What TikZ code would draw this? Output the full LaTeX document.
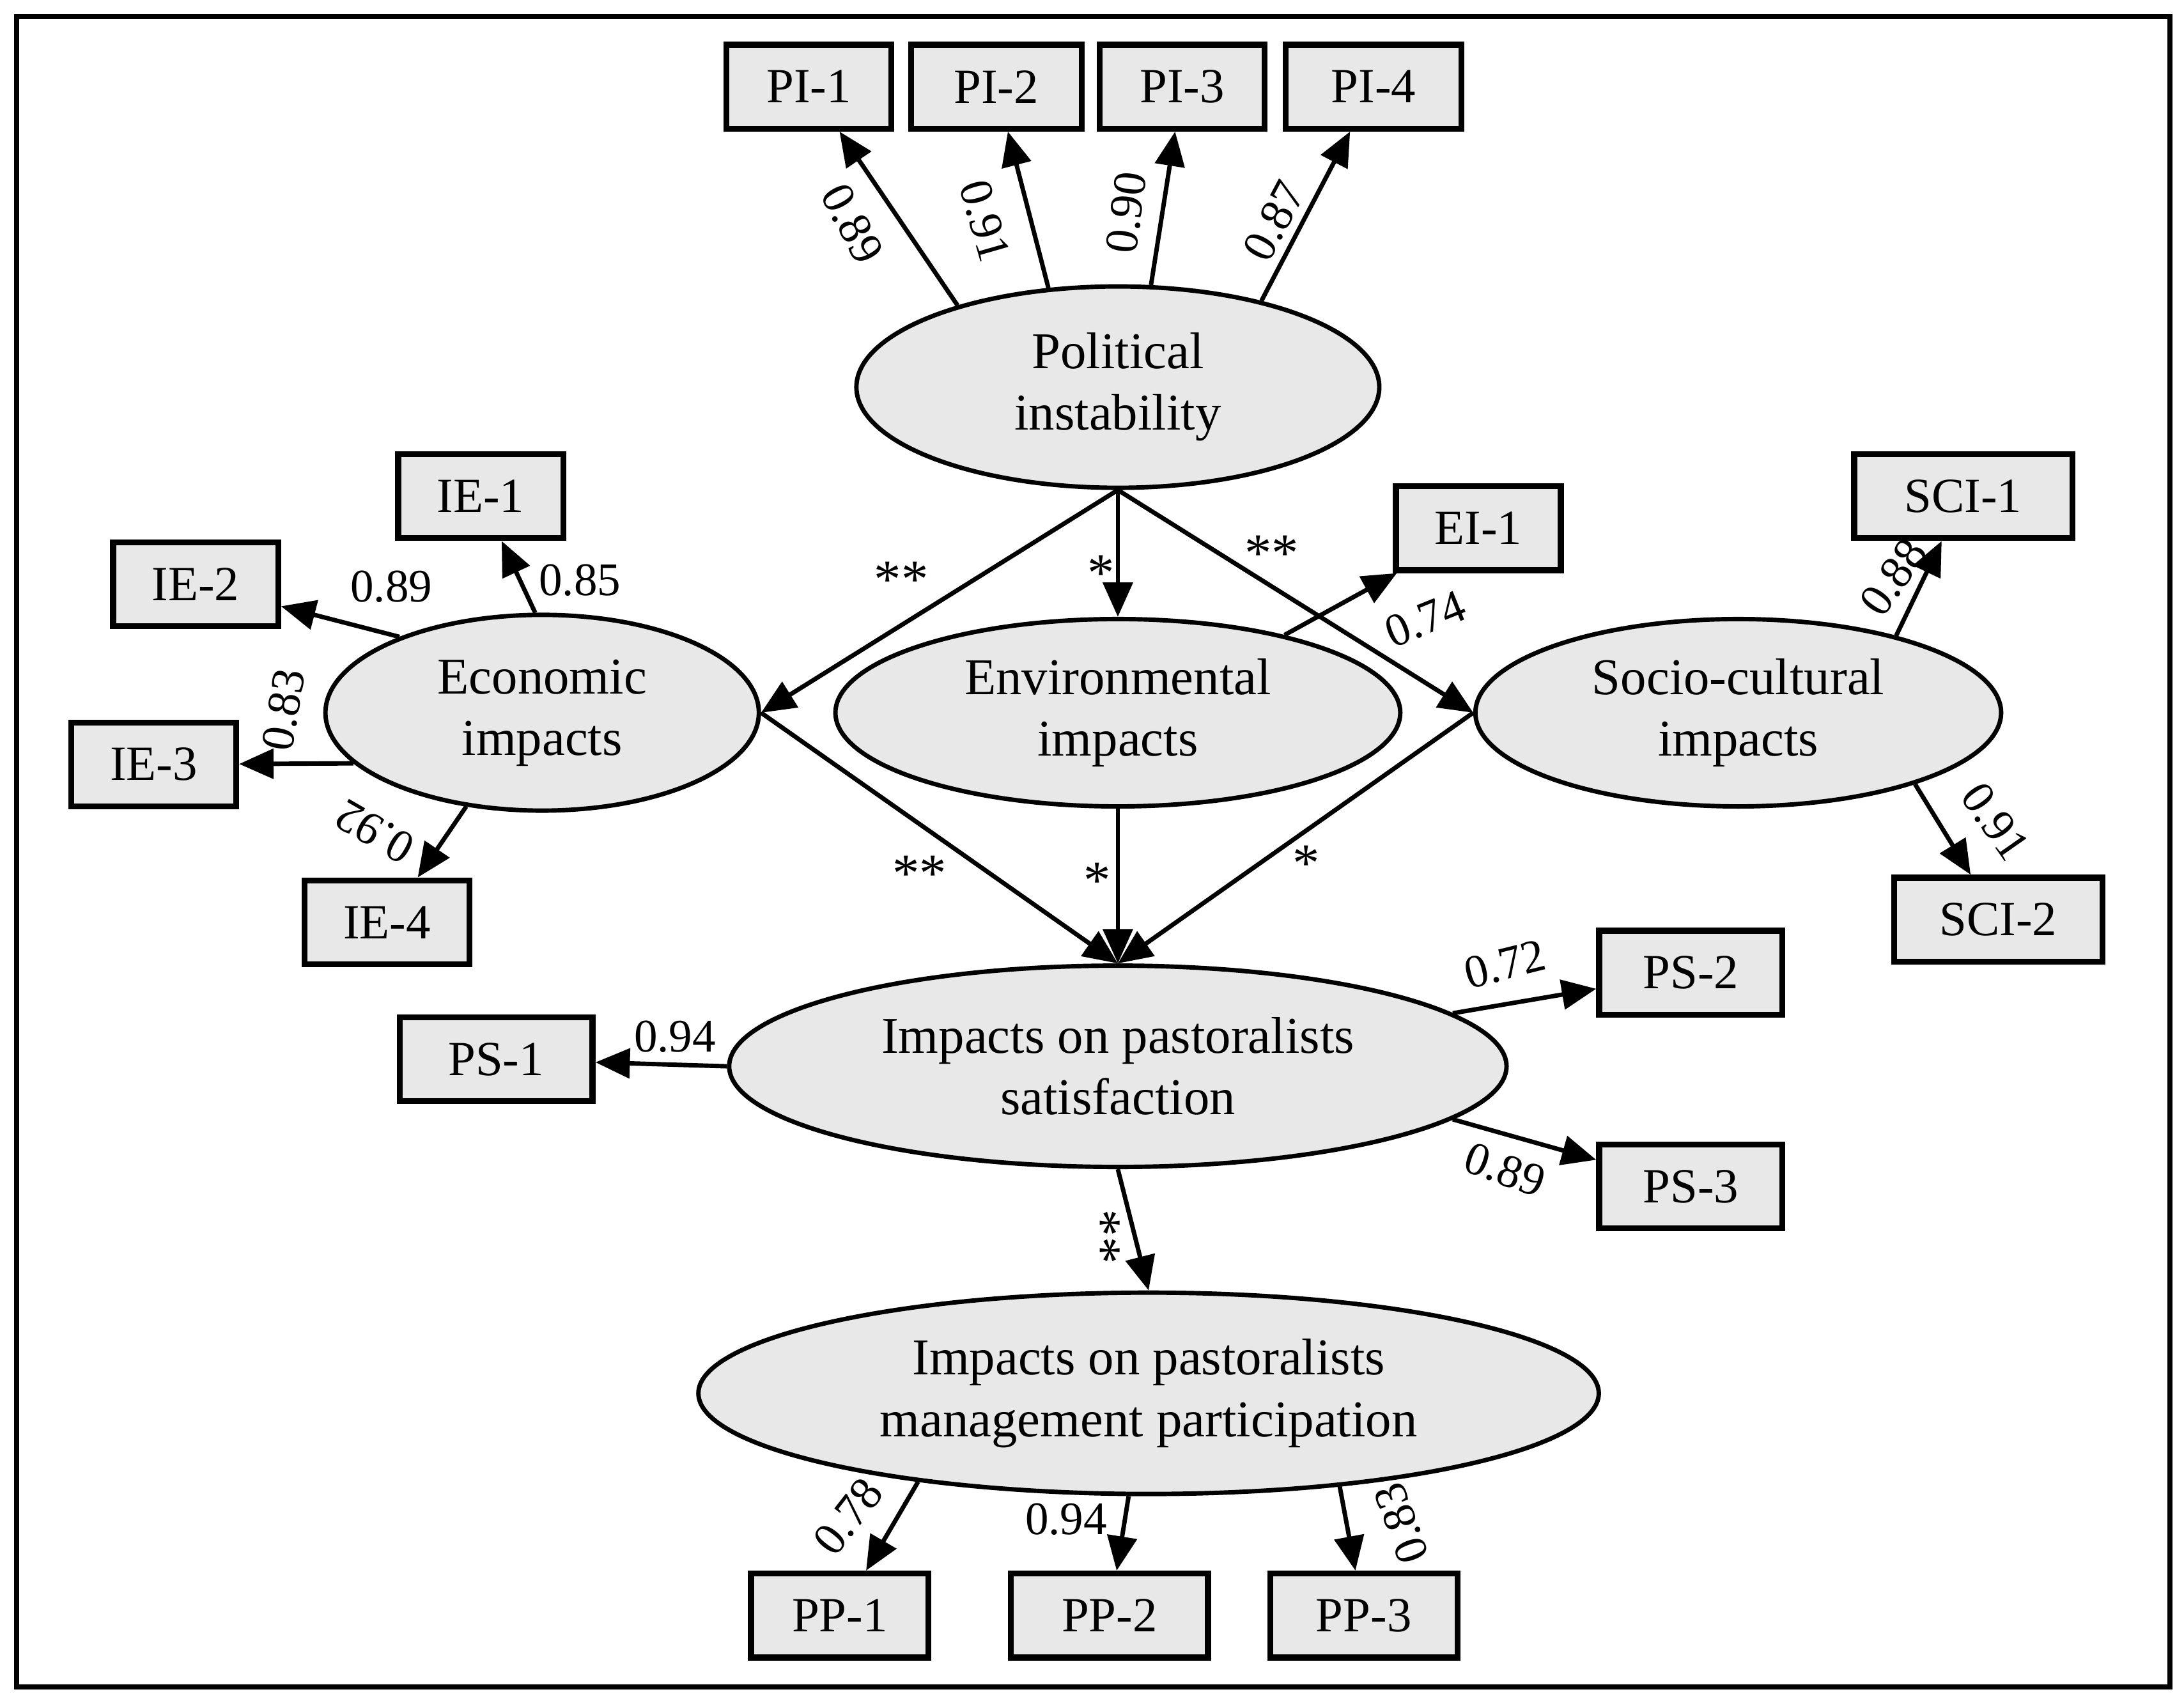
\documentclass[tikz,border=0pt]{standalone}
\usepackage{fontspec}
\setmainfont{Liberation Serif}
\usetikzlibrary{shapes.geometric,arrows.meta}
\definecolor{fillg}{RGB}{232,232,232}
\begin{document}
\begin{tikzpicture}[x=0.01cm,y=-0.01cm,
 box/.style={draw,line width=1.2pt,fill=fillg,minimum width=#1,minimum height=0.6cm,font=\fontsize{10}{12}\selectfont,inner sep=0pt},
 box/.default=1.18cm,
 ell/.style={ellipse,draw,line width=0.9pt,fill=fillg,inner sep=0pt,align=center,font=\fontsize{10.5}{12.5}\selectfont},
 ar/.style={-{Triangle[length=7pt,width=6pt]},line width=0.9pt},
 lb/.style={font=\fontsize{9.5}{11}\selectfont,inner sep=0pt},
 st/.style={font=\fontsize{11}{11}\selectfont}]
\useasboundingbox (0,0) rectangle (1563,1217);
\draw[line width=1pt] (12,12) rectangle (1553,1207);
% boxes
\node[box] (pi1) at (579,62) {PI-1};
\node[box=1.22cm] (pi2) at (713,62) {PI-2};
\node[box] (pi3) at (846,62) {PI-3};
\node[box=1.26cm] (pi4) at (983,62) {PI-4};
\node[box] (ie1) at (344,355) {IE-1};
\node[box] (ie2) at (140,418) {IE-2};
\node[box] (ie3) at (110,547) {IE-3};
\node[box] (ie4) at (277,660) {IE-4};
\node[box] (ei1) at (1058,378) {EI-1};
\node[box=1.56cm] (sci1) at (1405,355) {SCI-1};
\node[box=1.49cm] (sci2) at (1430,658) {SCI-2};
\node[box=1.38cm] (ps1) at (355,758) {PS-1};
\node[box=1.31cm] (ps2) at (1210,696) {PS-2};
\node[box=1.31cm] (ps3) at (1210,849) {PS-3};
\node[box=1.27cm] (pp1) at (601,1156) {PP-1};
\node[box=1.41cm] (pp2) at (794,1156) {PP-2};
\node[box=1.34cm] (pp3) at (976,1156) {PP-3};
% ellipses
\node[ell,minimum width=3.74cm,minimum height=1.44cm] (pi) at (800,277) {Political\\instability};
\node[ell,minimum width=3.1cm,minimum height=1.4cm] (ec) at (388,510) {Economic\\impacts};
\node[ell,minimum width=4.04cm,minimum height=1.34cm] (en) at (800,510) {Environmental\\impacts};
\node[ell,minimum width=3.76cm,minimum height=1.34cm] (sc) at (1244,510) {Socio-cultural\\impacts};
\node[ell,minimum width=5.56cm,minimum height=1.44cm] (sa) at (800,763) {Impacts on pastoralists\\satisfaction};
\node[ell,minimum width=6.44cm,minimum height=1.44cm] (pa) at (822,997) {Impacts on pastoralists\\management participation};
% loadings
\draw[ar] (pi.153) -- (pi1);
\draw[ar] (pi.125) -- (pi2);
\draw[ar] (pi.72) -- (pi3);
\draw[ar] (pi.31) -- (pi4);
\draw[ar] (ec.94) -- (ie1);
\draw[ar] (ec.152) -- (ie2);
\draw[ar] (ec.195) -- (ie3);
\draw[ar] (ec.231) -- (ie4);
\draw[ar] (en.25) -- (ei1);
\draw[ar] (sc.26) -- (sci1);
\draw[ar] (sc.-22) -- (sci2);
\draw[ar] (sa.west) -- (ps1);
\draw[ar] (sa.9) -- (ps2);
\draw[ar] (sa.-9) -- (ps3);
\draw[ar] (pa.201) -- (pp1);
\draw[ar] (pa.259) -- (pp2);
\draw[ar] (pa.334) -- (pp3);
\node[lb,rotate=-62] (l1) at (610,160) {0.89};
\node[lb,rotate=-74] (l2) at (705,158) {0.91};
\node[lb,rotate=83] (l3) at (806,152) {0.90};
\node[lb,rotate=62] (l4) at (912,158) {0.87};
\node[lb] (l5) at (415,415) {0.85};
\node[lb] (l6) at (280,420) {0.89};
\node[lb,rotate=80] (l7) at (203,508) {0.83};
\node[lb,rotate=150] (l8) at (268,595) {0.92};
\node[lb,rotate=22] (l9) at (1020,443) {0.74};
\node[lb,rotate=55] (l10) at (1355,413) {0.88};
\node[lb,rotate=-55] (l11) at (1428,588) {0.91};
\node[lb] (l12) at (483,742) {0.94};
\node[lb,rotate=14] (l13) at (1077,690) {0.72};
\node[lb,rotate=-20] (l14) at (1077,837) {0.89};
\node[lb,rotate=52] (l15) at (607,1085) {0.78};
\node[lb] (l16) at (763,1087) {0.94};
\node[lb,rotate=110] (l17) at (1003,1090) {0.83};
% structural paths
\draw[ar] (pi.south) -- (ec.east);
\draw[ar] (pi.south) -- (en.north);
\draw[ar] (pi.south) -- (sc.west);
\draw[ar] (ec.east) -- (sa.north);
\draw[ar] (en.south) -- (sa.north);
\draw[ar] (sc.west) -- (sa.north);
\draw[ar] (sa.south) -- (pa.north);
\node[st] (s1) at (645,415) {**};
\node[st] (s2) at (788,410) {*};
\node[st] (s3) at (910,396) {**};
\node[st] (s4) at (658,625) {**};
\node[st] (s5) at (785,630) {*};
\node[st] (s6) at (935,618) {*};
\node[st,rotate=90] (s7) at (800,885) {**};
\end{tikzpicture}
\end{document}
